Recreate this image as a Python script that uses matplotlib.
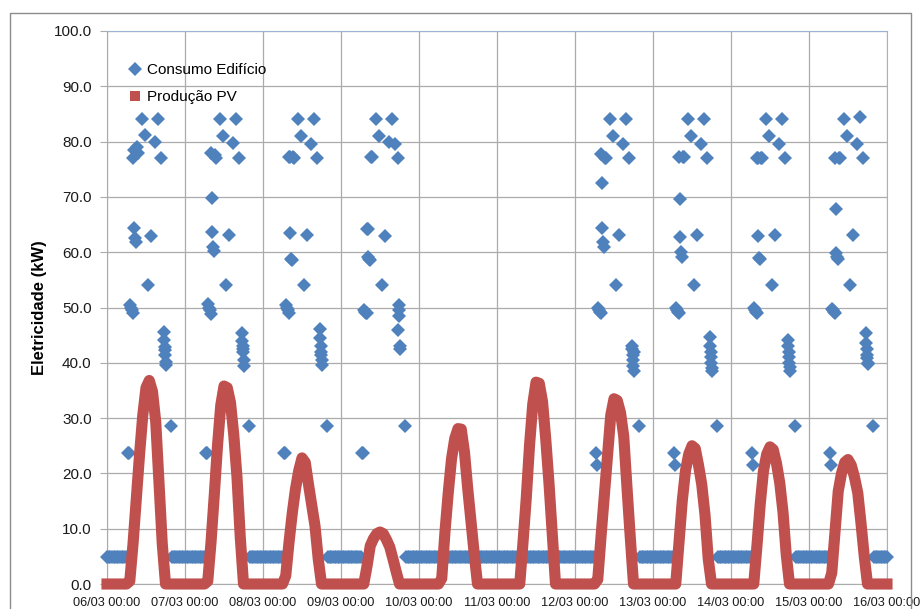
import matplotlib
matplotlib.use('Agg')
import matplotlib.pyplot as plt
import matplotlib.dates as mdates
from matplotlib.lines import Line2D
import numpy as np
import pandas as pd

plt.rcParams['font.family'] = ['Liberation Sans', 'DejaVu Sans']

# Days shown on the chart (year is arbitrary, only day/month are displayed)
days = ['2014-03-06', '2014-03-07', '2014-03-08', '2014-03-09', '2014-03-10',
        '2014-03-11', '2014-03-12', '2014-03-13', '2014-03-14', '2014-03-15']
end_day = '2014-03-16'

# Building consumption (kW) - night base load, read every half hour
night_kw = 4.8
workday_night_hours = [0, 0.5, 1, 1.5, 2, 2.5, 3, 3.5, 4, 4.5, 5, 5.5, 6,
                       20, 20.5, 21, 21.5, 22, 22.5, 23, 23.5]
offday_hours = list(np.arange(0, 24, 0.5))
offdays = ['2014-03-10', '2014-03-11']

# Building consumption (kW) - daytime readings of working days
cons_day_hours = [6.5, 6.75, 7.1, 7.4, 7.7, 7.95, 8.0, 8.2, 8.45, 8.65, 8.9, 9.1, 9.6, 10.7,
                  11.6, 12.7, 13.5, 14.7, 15.7, 16.5, 17.5, 17.6, 17.7, 17.8, 17.9, 18.0, 18.1, 19.7]
cons_day_kw = {
    '2014-03-06': [23.7, 23.7, 50.5, 50.0, 49.5, 49.0, 77.0, 78.5, 64.3, 62.5, 61.8, 79.0, 78.0, 84.0,
                   81.2, 54.0, 63.0, 80.0, 84.0, 77.0, 45.6, 44.1, 42.9, 42.3, 41.4, 40.2, 39.6, 28.5],
    '2014-03-07': [23.7, 23.7, 50.7, 50.0, 49.5, 48.9, 78.0, 69.8, 63.7, 61.0, 60.2, 77.5, 77.0, 84.0,
                   81.0, 54.0, 63.1, 79.8, 84.0, 77.0, 45.3, 44.0, 43.0, 42.5, 42.0, 40.5, 39.5, 28.5],
    '2014-03-08': [23.7, 23.7, 50.5, 50.0, 49.6, 49.0, 77.3, 77.3, 63.4, 58.8, 58.5, 77.3, 77.0, 84.0,
                   81.0, 54.0, 63.1, 79.6, 84.0, 77.0, 46.1, 44.5, 43.0, 42.0, 41.5, 40.5, 39.6, 28.5],
    '2014-03-09': [23.7, 23.7, 49.5, 49.2, 49.0, 49.0, 64.2, 64.2, 59.2, 58.8, 58.6, 77.2, 77.2, 84.0,
                   81.0, 54.0, 63.0, 80.0, 84.0, 79.5, 77.0, 46.0, 50.5, 49.5, 48.5, 43.0, 42.5, 28.5],
    '2014-03-12': [23.7, 21.5, 50.0, 49.6, 49.2, 49.0, 77.8, 72.5, 64.4, 61.8, 60.9, 77.0, 77.0, 84.0,
                   81.0, 54.0, 63.1, 79.6, 84.0, 77.0, 43.0, 42.5, 41.5, 40.5, 39.5, 38.5, 42.0, 28.5],
    '2014-03-13': [23.7, 21.5, 50.0, 49.6, 49.2, 49.0, 77.3, 69.6, 62.8, 60.0, 59.1, 77.3, 77.3, 84.0,
                   81.0, 54.0, 63.1, 79.6, 84.0, 77.0, 44.6, 43.0, 42.0, 41.0, 40.0, 39.0, 38.5, 28.5],
    '2014-03-14': [23.7, 21.5, 50.0, 49.6, 49.2, 49.0, 77.0, 77.0, 63.0, 59.0, 58.8, 77.0, 77.0, 84.0,
                   81.0, 54.0, 63.1, 79.6, 84.0, 77.0, 44.2, 43.0, 42.0, 41.0, 40.0, 39.3, 38.6, 28.5],
    '2014-03-15': [23.7, 21.5, 49.8, 49.5, 49.2, 49.0, 77.0, 67.8, 59.8, 59.2, 58.7, 77.0, 77.0, 84.0,
                   81.0, 54.0, 63.1, 79.6, 84.5, 77.0, 45.3, 43.5, 42.5, 41.5, 40.8, 40.0, 39.8, 28.5],
}

# PV production (kW), hourly readings per day
pv_hours = [0, 6, 7, 8, 9, 10, 11, 12, 13, 14, 15, 16, 17, 18, 24]
pv_kw = {
    '2014-03-06': [0, 0, 0.5, 7.2, 15.3, 23.3, 30.5, 35.5, 36.8, 34.8, 29.3, 18.3, 7.3, 0, 0],
    '2014-03-07': [0, 0, 0.5, 7.5, 16.0, 25.0, 32.3, 35.8, 35.5, 32.8, 27.0, 19.3, 8.5, 0, 0],
    '2014-03-08': [0, 0, 1.5, 7.5, 12.8, 17.2, 20.5, 22.8, 22.0, 18.0, 14.2, 10.5, 4.5, 0, 0],
    '2014-03-09': [0, 0, 0, 3.2, 6.9, 8.2, 9.1, 9.4, 9.1, 8.0, 6.7, 4.5, 2.2, 0, 0],
    '2014-03-10': [0, 0, 1.0, 9.5, 16.5, 22.6, 26.3, 28.1, 28.0, 23.8, 17.2, 11.3, 5.4, 0, 0],
    '2014-03-11': [0, 0, 0, 7.5, 15.5, 25.0, 32.5, 36.5, 36.3, 33.0, 26.2, 18.2, 9.0, 0, 0],
    '2014-03-12': [0, 0, 0.8, 8.5, 15.8, 23.3, 30.5, 33.5, 33.2, 31.0, 26.7, 17.4, 8.5, 0, 0],
    '2014-03-13': [0, 0, 0, 7.5, 15.0, 20.5, 23.5, 25.0, 24.5, 21.5, 18.0, 12.5, 4.5, 0, 0],
    '2014-03-14': [0, 0, 0, 7.0, 14.5, 20.5, 23.5, 24.8, 24.3, 21.8, 18.3, 13.0, 5.3, 0, 0],
    '2014-03-15': [0, 0, 2.0, 9.5, 16.8, 20.0, 22.0, 22.5, 21.5, 19.3, 16.5, 11.0, 5.0, 0, 0],
}

blue = '#4F81BD'
red = '#C0504D'

# Build the consumption series
cons_t = []
cons_v = []
for d in days:
    day0 = pd.Timestamp(d)
    if d in offdays:
        hrs = offday_hours
        vals = [night_kw] * len(hrs)
    else:
        hrs = workday_night_hours + cons_day_hours
        vals = [night_kw] * len(workday_night_hours) + cons_day_kw[d]
    for h, v in zip(hrs, vals):
        cons_t.append(day0 + pd.Timedelta(hours=float(h)))
        cons_v.append(v)
cons_t.append(pd.Timestamp(end_day))
cons_v.append(night_kw)

# Build the PV series
pv_t = []
pv_v = []
for d in days:
    day0 = pd.Timestamp(d)
    for h, v in zip(pv_hours, pv_kw[d]):
        pv_t.append(day0 + pd.Timedelta(hours=h))
        pv_v.append(v)

fig = plt.figure(figsize=(9.24, 6.09), dpi=100)
ax = fig.add_axes([107 / 924, 25 / 609, 780 / 924, 553 / 609])

ax.plot(cons_t, cons_v, linestyle='none', marker='D', markersize=7.0,
        color=blue, markeredgewidth=0, clip_on=False, zorder=3)
# dense PV samples look like one thick band in the original
ax.plot(pv_t, pv_v, color=red, linewidth=8.0, solid_joinstyle='round',
        solid_capstyle='projecting', clip_on=False, zorder=4)

ax.set_xlim(pd.Timestamp(days[0]), pd.Timestamp(end_day))
ax.set_ylim(0, 100)
ax.set_yticks(np.arange(0, 101, 10))
ax.yaxis.set_major_formatter(plt.FormatStrFormatter('%.1f'))
ax.xaxis.set_major_locator(mdates.DayLocator())
ax.xaxis.set_major_formatter(mdates.DateFormatter('%d/%m %H:%M'))

ax.grid(True, color='#ababab', linewidth=0.9)
ax.set_axisbelow(True)
ax.tick_params(axis='y', length=5, color='#ababab', labelsize=11, pad=6, labelcolor='#1a1a1a')
ax.tick_params(axis='x', length=0, labelsize=9.2, pad=9, labelcolor='#1a1a1a')
for side in ['left', 'bottom']:
    ax.spines[side].set_color('#ababab')
for side in ['top', 'right']:
    ax.spines[side].set_color('#9db3d6')

ax.set_ylabel('Eletricidade (kW)', fontsize=12, fontweight='bold', labelpad=5)

handles = [Line2D([], [], linestyle='none', marker='D', markersize=7.0, color=blue, markeredgewidth=0),
           Line2D([], [], linestyle='none', marker='s', markersize=7.5, color=red, markeredgewidth=0)]
ax.legend(handles, ['Consumo Edifício', 'Produção PV'], loc='upper left',
          bbox_to_anchor=(0.018, 0.953), frameon=False, fontsize=11,
          handlelength=1.0, handletextpad=0.3, labelspacing=0.85, borderaxespad=0)

# outer chart border
fig.add_artist(Line2D([10 / 924, 10 / 924, 911 / 924, 911 / 924], [0, 1 - 13 / 609, 1 - 13 / 609, 0],
                      color='#8c8c8c', linewidth=1.0))

plt.savefig('out.png', dpi=100)
